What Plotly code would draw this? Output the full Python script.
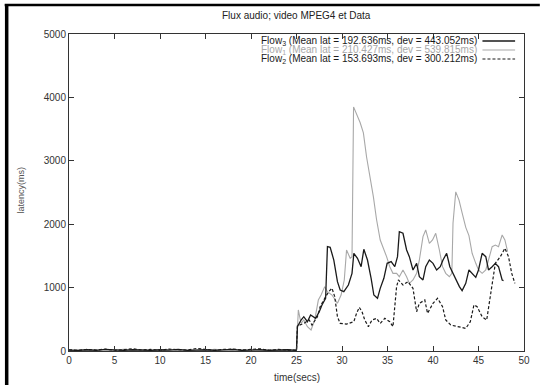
import plotly.graph_objects as go

# ---------------- data ----------------
pre_t = [0, 1, 2, 3, 4, 5, 6, 7, 8, 9, 10, 11, 12, 13, 14, 15, 16, 17, 18, 19, 20, 21, 22, 23, 24, 24.9]
pre_flow3 = [15, 10, 20, 10, 25, 15, 10, 20, 15, 10, 20, 15, 25, 10, 15, 20, 10, 15, 25, 10, 15, 20, 10, 15, 20, 10]
pre_flow1 = [10, 15, 10, 20, 15, 10, 25, 10, 20, 15, 10, 20, 10, 15, 20, 10, 25, 15, 10, 20, 15, 10, 20, 10, 15, 10]
pre_flow2 = [20, 10, 25, 15, 30, 10, 20, 35, 15, 25, 10, 30, 20, 15, 40, 20, 10, 25, 30, 15, 20, 35, 10, 25, 15, 20]

flow3_t = [25.0, 25.1, 25.5, 25.8, 26.2, 26.55, 27.1, 27.5, 27.8, 28.2, 28.4, 28.7, 29.1, 29.5, 29.8, 30.2,
           30.7, 31.1, 31.3, 31.7, 32.1, 32.4, 32.8, 33.2, 33.5, 33.9, 34.2, 34.6, 34.96, 35.4, 35.8, 36.1,
           36.3, 36.7, 37.1, 37.4, 37.8, 38.2, 38.5, 38.9, 39.2, 39.6, 40.0, 40.4, 40.8, 41.1, 41.5, 41.85,
           42.2, 42.6, 42.9, 43.2, 43.6, 43.95, 44.3, 44.7, 45.0, 45.4, 45.8, 46.1, 46.5, 46.85, 47.2, 47.6, 47.75]
flow3_v = [20, 384, 489, 541, 462, 568, 515, 620, 726, 831, 1646, 1635, 1435, 1094, 962, 936,
           1041, 1225, 1541, 1462, 1330, 1604, 1435, 1146, 883, 831, 988, 1146, 1383, 1409, 1330, 1488,
           1883, 1857, 1593, 1488, 1278, 1383, 1172, 1120, 1330, 1435, 1383, 1278, 1330, 1435, 1541, 1330,
           1225, 1120, 1015, 952, 1067, 1278, 1225, 1162, 1278, 1541, 1488, 1278, 1330, 1383, 1330, 1120, 1110]

flow1_t = [25.0, 25.2, 25.5, 25.8, 26.2, 26.6, 27.0, 27.4, 27.7, 28.1, 28.4, 28.9, 29.3, 29.5, 29.9, 30.25,
           30.5, 30.9, 31.1, 31.17, 31.27, 32.0, 32.35, 32.7, 33.1, 33.45, 33.8, 34.2, 34.9, 35.25, 35.6,
           36.0, 36.3, 36.7, 37.1, 37.4, 37.8, 38.2, 38.5, 38.9, 39.2, 39.6, 39.95, 40.3, 40.7, 41.05, 41.4,
           41.8, 42.07, 42.2, 42.5, 42.86, 43.2, 43.6, 43.95, 44.3, 44.7, 45.0, 45.4, 45.8, 46.1, 46.5, 46.85,
           47.2, 47.6, 47.9, 48.2]
flow1_v = [15, 647, 436, 489, 384, 331, 489, 804, 883, 1015, 936, 883, 804, 752, 883, 1120,
           1593, 1462, 1488, 3200, 3850, 3600, 3440, 3060, 2750, 2430, 2070, 1750, 1488, 1330, 1225,
           1225, 1172, 1278, 1172, 1067, 1120, 1225, 1435, 1804, 1909, 1699, 1751, 1857, 1593, 1330, 1225,
           1172, 1225, 2020, 2510, 2380, 2180, 1950, 1820, 1541, 1383, 1278, 1225, 1278, 1435, 1646, 1672,
           1646, 1830, 1751, 1567]

flow2_t = [25.0, 25.1, 25.8, 26.4, 26.7, 27.3, 27.6, 28.2, 28.55, 28.9, 29.2, 29.5, 29.8, 30.5, 31.3,
           31.6, 31.9, 32.2, 32.5, 32.9, 33.3, 33.8, 34.2, 34.7, 35.25, 35.6, 36.0, 36.2, 36.7, 37.25, 37.8,
           38.2, 38.5, 39.1, 39.4, 40.0, 40.5, 41.05, 41.4, 41.95, 42.5, 43.0, 43.6, 44.1, 44.5, 44.85,
           45.4, 45.9, 46.3, 46.55, 46.85, 47.4, 47.9, 48.3, 48.65, 49.0]
flow2_v = [16, 395, 436, 489, 410, 541, 700, 857, 936, 990, 857, 541, 436, 425, 462,
           594, 689, 620, 489, 384, 489, 515, 436, 515, 462, 384, 1015, 1120, 1041, 1094, 988,
           620, 752, 804, 594, 752, 831, 700, 489, 410, 395, 373, 357, 462, 726, 700,
           541, 489, 883, 1120, 1383, 1488, 1620, 1488, 1225, 1067]

legend_labels = [
    "Flow<sub>3</sub> (Mean lat = 192.636ms, dev = 443.052ms)",
    "Flow<sub>1</sub> (Mean lat = 210.427ms, dev = 539.815ms)",
    "Flow<sub>2</sub> (Mean lat = 153.693ms, dev = 300.212ms)",
]
title_text = "Flux audio; video MPEG4 et Data"
x_title = "time(secs)"
y_title = "latency(ms)"

# ---------------- styles ----------------
FONT = "Liberation Sans, Arial, sans-serif"
styles = [
    dict(color="#1a1a1a", width=1.3, dash="solid"),   # Flow3
    dict(color="#a8a8a8", width=1.1, dash="solid"),   # Flow1
    dict(color="#1a1a1a", width=1.2, dash="3px,2px"),  # Flow2
]
legend_text_colors = ["#1a1a1a", "#a8a8a8", "#1a1a1a"]

fig = go.Figure()
series = [
    (pre_t + flow1_t, pre_flow1 + flow1_v, styles[1]),
    (pre_t + flow3_t, pre_flow3 + flow3_v, styles[0]),
    (pre_t + flow2_t, pre_flow2 + flow2_v, styles[2]),
]
for xs, ys, st in series:
    fig.add_trace(go.Scatter(x=xs, y=ys, mode="lines", line=st, showlegend=False, hoverinfo="skip"))

# plot area in pixels: x 69..529, y 34..351
L, R, T, B = 69, 529, 34, 351
W, H = 542, 385
pw, ph = R - L, B - T

def px_x(p):
    return (p - L) / pw

def px_y(p):
    return (B - p) / ph

annotations = []
shapes = []
rows_y = [41, 50, 59]
for lab, col, st, ry in zip(legend_labels, legend_text_colors, styles, rows_y):
    annotations.append(dict(xref="paper", yref="paper", x=px_x(483), y=px_y(ry), text=lab,
                            showarrow=False, xanchor="right", yanchor="middle",
                            font=dict(family=FONT, size=10, color=col)))
    shapes.append(dict(type="line", xref="paper", yref="paper", x0=px_x(487), x1=px_x(520),
                       y0=px_y(ry), y1=px_y(ry), line=st))

annotations.append(dict(xref="paper", yref="paper", x=px_x(299), y=px_y(16), text=title_text,
                        showarrow=False, xanchor="center", yanchor="middle",
                        font=dict(family=FONT, size=10, color="#222")))
annotations.append(dict(xref="paper", yref="paper", x=px_x(299), y=px_y(377), text=x_title,
                        showarrow=False, xanchor="center", yanchor="middle",
                        font=dict(family=FONT, size=10, color="#333")))
annotations.append(dict(xref="paper", yref="paper", x=px_x(20), y=px_y(190), text=y_title,
                        showarrow=False, xanchor="center", yanchor="middle", textangle=-90,
                        font=dict(family=FONT, size=9, color="#555")))

# outer slide frame (thick black lines at top and left)
shapes.append(dict(type="line", xref="paper", yref="paper", x0=px_x(4), x1=px_x(545),
                   y0=px_y(5), y1=px_y(5), line=dict(color="black", width=2.5)))
shapes.append(dict(type="line", xref="paper", yref="paper", x0=px_x(6), x1=px_x(6),
                   y0=px_y(4), y1=px_y(390), line=dict(color="black", width=3.5)))

axis_common = dict(showline=True, linecolor="#333", linewidth=1, mirror="ticks", ticks="inside",
                   ticklen=5, tickcolor="#333", tickwidth=1, showgrid=False, zeroline=False,
                   tickfont=dict(family=FONT, size=10, color="#333"))

fig.update_layout(
    width=W, height=H,
    margin=dict(l=L, r=W - R, t=T, b=H - B),
    paper_bgcolor="white", plot_bgcolor="white",
    xaxis=dict(range=[0, 50], dtick=5, tick0=0, **axis_common),
    yaxis=dict(range=[0, 5000], dtick=1000, tick0=0, **axis_common),
    annotations=annotations, shapes=shapes,
)

fig.write_html("out.html")
